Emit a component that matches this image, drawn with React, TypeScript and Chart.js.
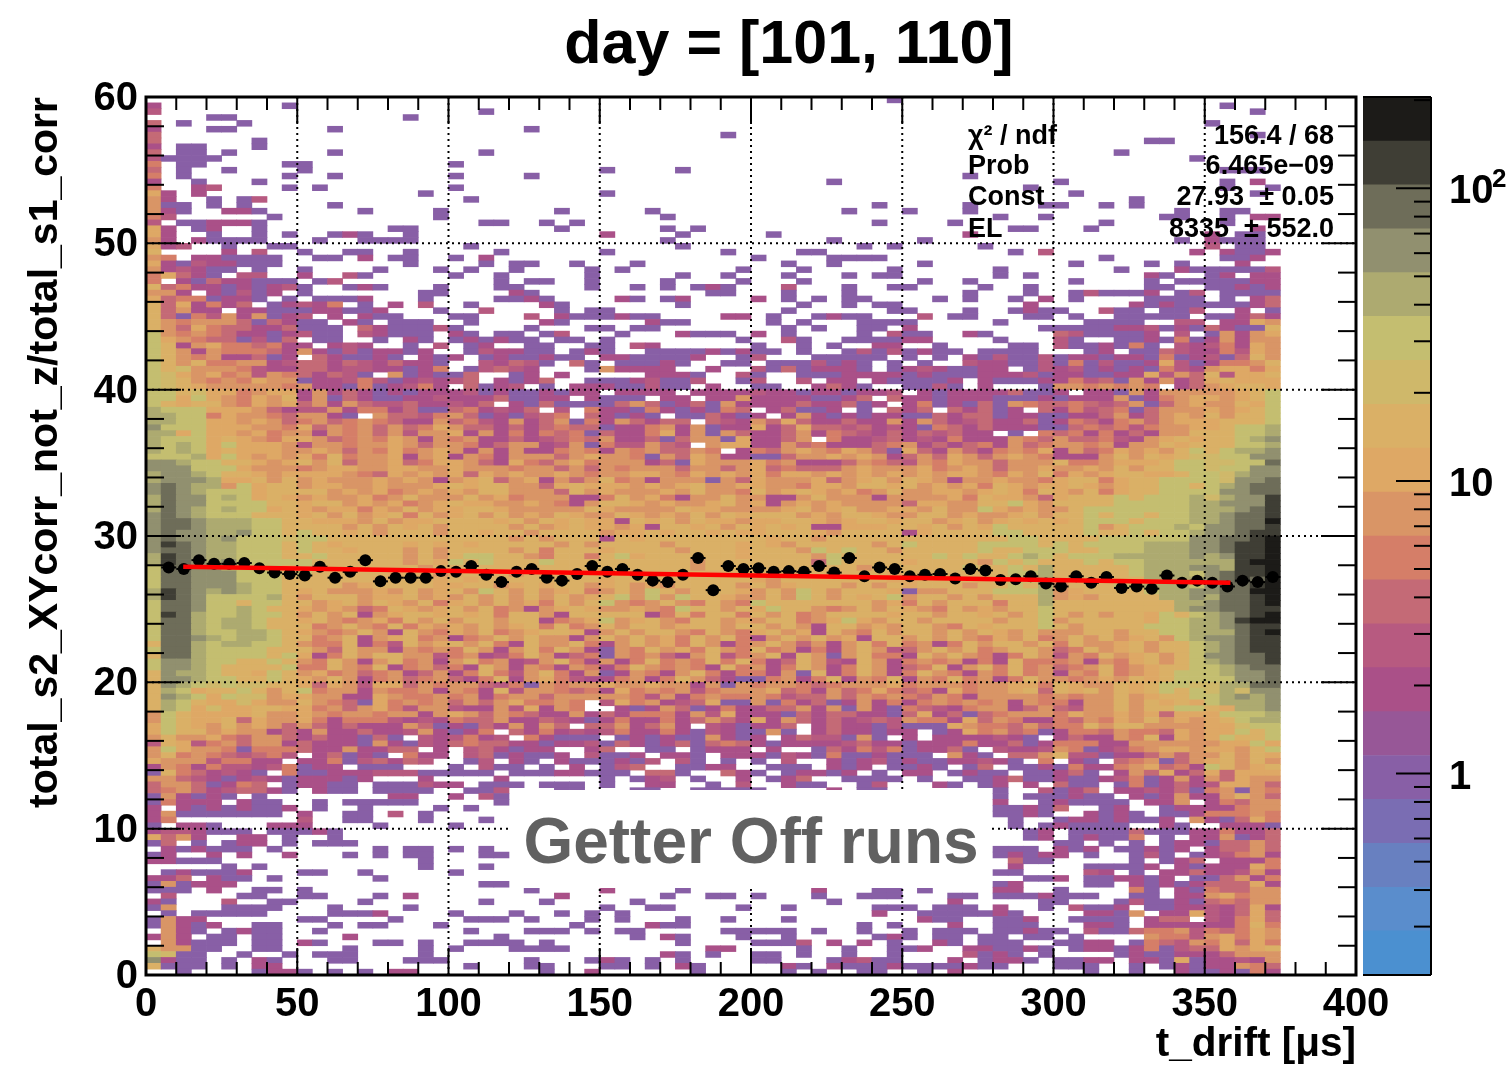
import React, { useEffect, useRef } from "react";
import { Chart, registerables } from "chart.js";

Chart.register(...registerables);

const FONT = "'Liberation Sans', Arial, sans-serif";

const titleText = "day = [101, 110]";
const xTitle = "t_drift [μs]";
const yTitle = "total_s2_XYcorr_not_z/total_s1_corr";
const noteText = "Getter Off runs";
const statNames = ["χ² / ndf", "Prob", "Const", "EL"];
const statValues = ["156.4 / 68", "6.465e−09", "27.93  ± 0.05", "8335  ± 552.0"];

const xBinEdges = ["0","5","10","15","20","25","30","35","40","45","50","55","60","65","70","75","80","85","90","95","100","105","110","115","120","125","130","135","140","145","150","155","160","165","170","175","180","185","190","195","200","205","210","215","220","225","230","235","240","245","250","255","260","265","270","275","280","285","290","295","300","305","310","315","320","325","330","335","340","345","350","355","360","365","370","375","380","385","390","395"];
const yBinHeight = 0.4;

// One string per y bin, top bin first; one letter per x bin, giving the colour-scale level of the count ('.' = empty).
const cellRows = [
".......... .......... .......... .......... .........p .......... .......... .....",
"m........p .......... .......... .......... .......... .......... .......... .p...",
"r......... .......... ..p....... .......... .......... .......... .......... ...p.",
"....pp.... .......p.. .......... .......... .......... .......... .......... .....",
"s.p...p... .......... .......... .......... .......... .......... .......... p....",
"m...pp.... ..p....... .....p.... .......... .......... .......... .......... .....",
"s......... .......... .......... ........p. .......... .......... .......... ...p.",
"s......p.. .......... .......... .......... .......... .......... ......pp.. .....",
"m.pp...p.. .......... .......... .......... .......... .......... .......... .....",
"s.pp.p.... ..p....... ..p....... .......... .......... .......... ....p..... .....",
"rpppp..... .......... .......... .......... .......... .......... .........p .....",
"o.pp.....p p......... p......... .......... .......... .......... .......... .....",
"s.p..p.... p......... .......... p....p.... .......... .......... .......... .ppp.",
"o.p......p ..p....... p....p.... .......... .......... ....p..... .......... .....",
"m..p...p.. .......... .......... .......... .....p.... .......... p......... .p.m.",
"o..mr....p .p........ p......... .......... .......... ........p. .......... .p..p",
"gm.m...... ........p. .......... p......... .......... .......... .p........ ...p.",
"fm..p.pr.. .......... .p........ .......... .......... .......... .....p.... .....",
"fpp.p.p... ..p....... .......... .......... ........p. ....p....p p..p.p.... .....",
"fmp..mmp.. ....p....p .......p.. ...p...... ......p... p...p..... ........p. .pp..",
"or......p. .........p .......... ....p..... .......... ......p..p .......pp. .p.mm",
"r.ppmmmp.. .......... ..pp..p.p. .......... ........p. ...p...... ...p...... .p...",
"gm.pm..p.. ......pp.. .......p.. ....p.p... .......... .......pp. ..p....... ...m.",
"gm..p..p.p ..pmp..p.. .......... m....p.... .p........ ....m..... .......... m.pp.",
"fm.mpppp.. .p..pppp.. .......... ....p..... .....p.... .p........ ........p. mppp.",
"gmr..p..pp .......... .p........ .....p.... .......p.p .....p.... .......... r.pp.",
"y....m.r.. p..pp..p.. ...p...... p.......p. ...pp..... .......p.r .........m .mppm",
"fo.mmpppp. .pp.m.pp.. p.m....... .......... p....pppp. .......... ...p...... .ppm.",
"gmprmmppp. .......p.. ..p.pp..p. ..p....... ..p..p.... .p........ .p....p.p. ..m..",
"fmrmpp.p.. p....p...p .p..p....p .p.......p ...p.....p ......p... ....p...mp ppppr",
"ogsmp.rr.. m..rp..... p..p.....p .....p..p. ..p...p.pp ......p.p. ......mp.. pm.mm",
"o.mpsmmppp .pr....... ...p.pp..p ....p....p ...p...... .p..p..... .p....p.pp pppmm",
"ysommpmpmr p..pmp...p ...pp....p ..p.p.pmp. ..r...p..p p....p..p. ......pp.. ppmpm",
"ffm.mprpm. p.......pp ....mp.... .......pp. ..p...p... ....p...p. .prpppm.pr .pppp",
"gsoopmmp.p .pppm...p. ...ppmp... .mp.pm.... m.p.p.pp.. ..p.p..p.m .p....pppp .p.ms",
"ysgmoms.pm rmo.p.m.r. .p....mp.. .....p.... ...p..p.pp ........m. .....mpmpp pppms",
"ysfmm.mmpp pmmppm...p ..r....p.p p......... ..p......p p...p..pmp p..rpp.ppr ..m.p",
"ysporfmfpm r.m.mpp... pp...r.mpp pmpp....mm .p..pmpp.. .r.pp...pp .p..ppppp. ppmsm",
"yfofffspsm pp.mp.ppp. .p....mp.. ...mpp.... .p.p...ppp p.....p... ..pppp..rr .mmgf",
"yfsgossmms ppp.smpppr p....p...p p.pp...... ..p.p..pp. m........p ppppmmrpmp smppy",
"kfofosmmpm rpp.rmppp. mp.pp.pr.. .p...mppp. m.p....p.r pp..mp.... srppppm.r. pfmfg",
"kgfossprps .pp..p.mp. pmpmpp.pp. p........p ..rp..pppp mm....p... rp..ppmpop mfmff",
"kymfgoosom m.mrm..p.r .pm..pp..p p.rm...... p..p.p..mm ..p....pp. rppmpop.rm romgf",
"kyfmfooosm fmprpmmpm. .prmmpp.pm p..ppppmpm pp.p..prpr pmpp.pppp. ..pm.ppsrm morgf",
"kyfofmmspm .smppmp.mp m.pmppmpp. mmppppm..p r...ppppp. p.p.mprppr pmmpmmpopm rpsyf",
"kyfyooffmr ssmsrmsmmp ..rmsrp.sp .pppmp..pp .ppprpmp.p .p..rmmppr poprppmgrp moofy",
"kyhffformm ssmrrmmpmo .prsrm...p fmmmm..m.. rpspmmmp.p mrmppmm.pr mrpmpmporm fggog",
"khgfgofrfo smsrp.fpmp ps..pm.m.. ...mmmp..r p..pppmmmm pmpppmmmrp mmppmmgrfs yrggy",
"khyfofogff pmmrorpmrm rs.mpms..p ppmrppr..p r..r.mm.mp pppm.mpppm morspfmfms gyggg",
"khygfffffo fmmpopmrom .spmr.p.mm mpprpp.m.. pp..msmp.. pprp.m...p ffofofo.ms fgyyg",
"kkyhggofgg mfmsmpmpmm mrpmppmpmm .mmmm.mmmm rmmpmmpmmr .mpmmmmspp m.mmpfmfff ffgyk",
"kkgkgfogfy mfpsmppmmr mmmsppmm.m ppp.mm.mmf mmmmppms.s mmpmmmpppm pmmmfpmofg gfgyk",
"kygyyfogfg sfmfsrrsmm rms.mpsppp psfspmspfm mmmsmmspm. mopmpspfos sosrsfpsfg ffygk",
"lkkkgggfsm rrfmoomspp somrms.r.o mmpompmpos .msppm.p.s ms.smspm.s morsopsfff gfgyk",
"llkkogffos ffmp.fssro fspmprso.s mpmp.ppsmp m.mfmpmpmm ppsmsspmmp pmmsfmsfgf yfyyk",
"llkkggfgfs ofsofosmmf sormfmsfpo mfsmss.srm fsgsmmsmmf mfsmrsmmsp mosmofsfgg gyyyk",
"nkkkgggffo gsfofsfsog fssmsmsoss pmmofmfpmm gmsgssrsmr mposmsmmmp psosoroffg gykkl",
"llgkggfgof fmfofsfrff gmfmomosop smmogmfpfs mmsfmosrms msrsmm.p.o somomsmffy yykkl",
"lkkkgygfog gfsofogfmf ofmmsmrsos fmmspsffpg mmsf.ommrs mrmommmfos fssormfgyg yykln",
"lklkgkgggf rffoffgfsf fomsffmrfp orrfsr.fgg mmfsommmso fmsmsomfso ffofmffygy yykkl",
"lklkgygggf fgfsfogofg fmfmfmmofo mfofssfo.m osfgfogfsp gsmfsmofog mfsogfgfyk yklln",
"kkklgkgfgf goyoffgmfg mfomfffsfg ffopfsgfmm ppsffgfgfm sfsgfsfgfo mmmfyfygyh hkknn",
"nnlkkyygfg yfysffgsog gfsmgosfgo fffmspgfff gofmmmsfos rfogffsfff yoofgggykk hhkkd",
"nnnkkkgfff ofggffggff gfffoffsfs fofffsffsf gsosssfgff fgofgfsffg ffgfyfyykk hkknn",
"lnnlkyygfg gggfosgfgf gsgfgffgfo ffggfogfgf goggfgfgfg fgfggfogfy ogfgyyggyk khlnn",
"lnnnlggyfy fgfffgfgfm fgysfgmfsf yofmfffpfs gfffgsfgyf ygfmffgffo gyyogyykkk khnnd",
"ndnllfkgyy fggffgfffg ygyyffsgyg ggfgfgyffg gffoggfyyg yfgfgoygfg gygfgyykky klndd",
"ndnlkkkgyy yyfgfgofgf gfyyfffsyf gfffgfyffo yfgygfgofy ffggfgygoy gfyogyykkk knndd",
"ldnnklkgyg fgffgofyff fyfgofffmm oyfgomffyf fmmfyfffmf fffgoyggfs gyyykykkkl hlnnc",
"ldnnkkkkyy gyyfgfgofg yggffgfomf yygfgffgyf gmfgfgffff sggffyykgf yyyykkkkkl lnnnc",
"ldnlklkkgy gfggogfyfg gyygfffffy gffffyggff ffgyfgyffg gfyffkgfgf fykkkkkkkl llndc",
"ndnlkkkyyy gyfyfgyoyf gyfyfgfygf fygfgfyfyg yyyfgfyygf fyyfgffgyf yykykkykkl lnddc",
"nddnlllkky ygggfyfggy yyygyfygyg gmygyfyggf ggyygfgyyg yyfgyfgygy gykkkykkkl lnddb",
"nddnlllkky yyyfyfygyf yyyyfyfgyg gfgmyygyfy gygymmgggy ygyfygkyyy yykfykkklk nnddc",
"ndnnllnkky kyygyfyyyf yygyyfyyyy fggygyygyg gyyygfyyyy mgyyyykkyy yykyykykkl nndcc",
"ndnnlnkkkh kkyyyyyyyy yyyyfyfyyy mygyyyyyyy ygyyfyyyyy yyyyyyykky yyykkkkkkn nddcb",
"ncdnllkkky kygyyyygyg ygyyyyyfyf yyyyfyyyyg ygfyyyyyfy kyyyykkkky kykkkkllln ndccb",
"nddnllkkky kyygyyyfyf yyyyfyoyyy gyyyyfyyyg yyyfkykyyf yyyyykyykk kyykkkllln ndccb",
"lcdnllkkky ykyyyyyfyf ykkyyfoyyo ykgyyyyyyg yyyyfkyyyy yykykyyklk ykkkllllln lnccb",
"lcdnlnkkkk kyyyyyyfyg kykyyykyyy yyyyyyfyyy yyyyskyyyy gyyyyfkyky yykykkllll llcbb",
"kddnnlkkky kyyyyyyyfy yyyyyyyyyy yyyyyyfyyy yyyyyyyfyy yyyykyykyl yyyyykllln nlccb",
"kddnnnkkky kyyyyygyyf gyyyfyyyyy yyfyyyygyy yyygyyyyyg yyyyyyykkl yyyyyklllk ndccb",
"kddnnnkkky yyyyygyyyg ygyyyyyyyy gyyyyyyyyy gfyyyyyyyg gyyyyykkkl yyyyyyllll ndcdb",
"kddnnnlkky yyyfgyyyyg gyyfgygyyf gyfgfyyyyf yfgyyyfyfy gyyyfyykyl fyyykklllk nddcb",
"lcdnlnlkky gyfffgfyfg yfkyfyfgyo fyfkyfyyyg fyfkyfyyyg pffyyykkkl fgyyyyklln nddbb",
"lcdnkkkkly fyyyfggyfg fyfyfyfyfg ykfkfkyygf fyfkyfygyk fyyfyfyyyl fgfyyyylln lddcb",
"kddnkkykky yfgyfygfyo gyfyfgoyfy kfofyfoyfo kyyyyyyyfg oyfyyyoyyl yyyyyyyyll nddcb",
"kddnkklkyy gfgfsoygfg yfyofmfgyg ffgfokyyfy gkyyfofyfy gfoyfgfyyk yyyyyyyyln nddcc",
"kcdlkklkky fyfymfgyyg ygyoyyfmyy yyymoyoyyo yfyofyyyyg yyfyygyfyk yfyfyygkyk lndcb",
"kddlkllkyy gyfofgoyfy fyyfyymofg kfgyfoyyfg fyyofgkgfy yfyyyyfyyk fyyyyygkkl lncbb",
"kddlkllkyy yofyfoyogf gfyfgyoyof yfyyfgyyfy yfyfmyyfgf yyfoygyyyk yfyyyykkkl lndcc",
"kddlkkllky gfofyfmyfo gfyofgyygm fyfyyfoyfo gyfgmyfoyf yyfyfygfyf ffyyfyykkl lldcb",
"kddnlkllky yofymfgyof mofyfyffmf yfyfgoyfyo mfyfyfgmyy fyfyfogfyo fyfyfgyfkl nndcc",
"yddlkllkky fooymoryfg yfyomyffyo mfyfgoyfmo fyfsfmfyoy ofmoyfyyfy oyffgyfyyk lndcc",
"kddlkkkkyy yfsyffmfof oyfmfyoyfm pfoyfgoyfo yofmomfyfr sfyfyofyyf soyfgyfyyk lndcc",
"yddlkkkkyk gmoyfyyffr ofmroyfmso pfofsmfyro fymyfpfyoo myfyfomoyf rfoyfgyfyk nnddc",
"knnlkkyyky foyfmfyofm fyofmrfyom fmoyofoyoy omsyfrmyfm ofofmomyoo ofmfogyfyk lnddc",
"knnlkyyyyk ooyfoymofs omyfmfomfo moyfofomyo fmoyfmoyfm soymfyoyof sofyofgyyk klndd",
"ynllkyygky fgofsofmsf moyorfyomf pmfomfyomo omfpymoyfm oyfomfoyof mfoyofgykk klnnd",
"ynnlkkyyky gfyfmofsof smoymfgorm mofmoyfsmp pofmoymfoy mfoyofmoyf fofgfygykk kknnd",
"ynlkhkhhyy gsgfrggsfo ffsropfoff gffgffmfpf offosofffg offfoffggo ygffygykkh hlldd",
"ylkgyykyfy koffmfoofm fomyrffoso mgofofroff fgsomfsogo somgoffgys ygyfygykyk hlhnn",
"ynlkgkhhfg gffmmgfoof ofmoffsfff fforfmofoo forssfsfof osfomffffo foffyfgyyk klnln",
"ylkygghgff yfospgofof sfsfgoofo. rgofmrsgpp fpomspmfmo mofofofmfo omffyfygyg kllln",
"ylkghggyyg gofsfgorff rmmfrgmfo. .mpmfspmom mssfmfpfmp osrmoffmsf srffyfyykk yglln",
"fkyggggyff gfoffoffmf gfsfosmmfm smooomfrgm mmpsmssmmp sgmspsofff ogffgfgsgg gkkkl",
"fkyggysgff gomooormrm ossfmmsrmp mommomsfsm gmfsmsmrsr foomgsfomm osfogfyfgf gykll",
"gkygfyfgfs fsmsmmmfsp mpsmfmfs.s sfmsfm.rmp mms.msmmpr pppgfoosfs ooyfyyffff gghkk",
"gkyyfgffms mfmmsmmrfm pmo.smomrm rommomprmp pfp.msmmpm m.pmgofsop moosfoosgf ggkyk",
"fyffgosffs msmmpsp.rm romr.omppp .pmpmppfmp m.msrrpfp. m.mmmmrmp. msmmfoymgf gkyyk",
"rygrofsffm smmmpfmprm sossmmpmmr psmpmspsos mpmmmmrsmm pmmmommspm ooommfffff fggkg",
"fkgffopooo smmfmmss.m .rsmpmm..m s..pp.pmmm .m..psmoro pmmsp.rmmr fopmrofggf ggfyk",
"fyofosrsor .mspmp.omm .rspmppm.r ppm.mmp.mm mprmpoppmp pp.fmp.ssf yrrpmmsfsf fyfyg",
"gfffroomm. mmoprsmsr. .pr.mp.mpp pmpr.rp.p. p.r..mpmrp mppmmrmp.o .mp.sofpsf gyfyf",
"mfomorrmro pmm.ppp... p.rpp.p.m. prs..ppmm. .ppp.mpm.p pmp.ps.ppm pommofgsom kyfgy",
"pyosmrmp.o ppmmmrrrpp ppp.pppmmp pp.ssp..sm p.pmmpm.p. mm.pmpp.pp msp.mfsgms gsggg",
"ffsrmpmrmp mmmpm...m. ...m...... p.pmr.p..m .pms..pppp .p..ppmspp mppmropmfm fsgff",
"sffspmos.p mmpp.ppprm m.ppp.ppp. p..mm..p.r ..mpp..pr. ..mp.pm.m. spp.popmsm rggfs",
"sofsmrssmp .mpp.pppp. .ppr...pp. ..pp..pppp p....m.pp. ......p..r pms.mmrmsp ofpfo",
"pfmpmp.p.. ......mm.. m.rp...... .......... .......... ......p.pp pmpp.mpmfm mfyfs",
"pommm.mpp. .p.ppppp.. ...p...... .......... .......... ......m..p mpppp.mmf. mosff",
"m.mpmpmppm .p..p....p .p........ .......... .......... ......ppmp s..pm..pmm mmoff",
"mfppppppp. m..pp.r.p. .......... .......... .......... ......ppmp ..mpmp.ppm ooofo",
"mo........ r..pp...p. ..p....... .......... .......... .......p.. pmmpmppm.f mpsgo",
"p.mmp...mm m....p.... p......... .......... .......... .......p.p mpppp..mp. .mmmp",
"mrrmppp.pp pmp....... .......... .......... .......... ........pm .ppppspppm momms",
"gsfm..mm.p ..p....... .......... .......... .......... ........pm .pmppo.p.m mfpms",
"ps.p.pmm.p .ppp...... .......... .......... .......... .......... pp.p.p.pmm pssfs",
".mpmppp.p. .....p.pp. p.p....... .......... .......... ......ppp. mpm.ppmpm. mssfs",
"pm..m.m..m ...p.p.pp. ..pp...... .......... .......... ......pmpm m.p..prp.p mrofm",
"mmppp..... ........p. .......... .......... .......... .......spp .....p.pms .mmmo",
".....p.p.. ........p. ..p....... .......... .......... .......m.. ..ppppm.mp mmmgo",
".pmpppm... pp..p..... p......... .......... .......... ......pp.. ..rm.p.mms mmrfm",
"mms.mpp.p. .....p.... .......... .......... .......... ........pp m.ppmmpm.p psfmo",
"pfpmmm.... .......... ..pp...m.. ....m..... .......... ......pm.. ..pp.mpmpm sssgm",
"ppp.m..pp. p......... .....p.... m....p.... ....m...pp .p....mm.. p....op.mp ossff",
".r....pp.. pp...p.m.. .......m.. ....p..pp. p...p..ppp ...pp.pppm ppp..pp.mm fgoff",
"mp...r..pp ....p..... ..p...p... ..p....... .....p.... ...m.....p p...prppmp sosff",
"pf...pppp. ..p....p.. .......... p..pp....p ..p.....pp p.ppp.m..p .rppm.ppmm rmsgm",
".p.ppppp.. ..pppm.... p...p..p.p .p........ ........m. .pppppmp.. ..mmpf.mmg rmsgs",
"pfmm...... pp....p... .ppp.p...p .p...p..p. ..p....... .mpp..ppm. .pppp.mss. rmogs",
"pfmpm..pp. ..p.pp...p ........p. ...mpp.... .......p.p ...m..ppp. ..mmp.mmmm mmoyo",
".fmp.pmpp. .p........ .p...ppp.p .pp.....pp ppp.p..p.. p.ppp.ppmp p.rppsoofr osogf",
"mfm.pp.pp. ...m...... ...p...... ..p.mp...p ..p.....pm p.pp.pp.pp .p....foor fgogf",
".fmppp.pp. mp...pp.p. .pppp.p... .....p.... pppr.m.m.p ..mp.ppp.. ppmm.posrf ogsgo",
"yffpp..pp. ...p....p. p...pppp.. .......mm. ...p..p..p pm..mmppmp .pmmpmoprs sgfgy",
"khpp..p..p .ppp....p. .......... ....mp.p.. pp.p..p..p ....rpmp.p ....pmppmm msfff",
"nmpp.p.mp. ..pp...ppp .....p...p mp.p.p.... pp...pmrpp ...m.pmmp. ppmm.mmpgp mmrmf",
"yppp.p.mm. .......... .p...pp... pp.p.mp... ..mp.mpppm ppppmpp... ppp..p.pmp mmfos",
"..p....pmm p.p.p.mm.. ......p..m ......p... ..p.p..pp. .p.m...... ..p..p..mp pmpom",
];

const cellColor: Record<string, string> = {
  ".": "rgba(0,0,0,0)", p: "#885fa6", m: "#aa5088", r: "#b75a80", s: "#c46a76", o: "#d57e68", f: "#d99566", g: "#dea865",
  y: "#dab066", h: "#cfb86a", k: "#c4be70", l: "#adaa70", n: "#91906f", d: "#6e6d59", c: "#3f3e35", b: "#1c1b18",
};

// Profile points
const pointX = [7.5,12.5,17.5,22.5,27.5,32.5,37.5,42.5,47.5,52.5,57.5,62.5,67.5,72.5,77.5,82.5,87.5,92.5,97.5,102.5,107.5,112.5,117.5,122.5,127.5,132.5,137.5,142.5,147.5,152.5,157.5,162.5,167.5,172.5,177.5,182.5,187.5,192.5,197.5,202.5,207.5,212.5,217.5,222.5,227.5,232.5,237.5,242.5,247.5,252.5,257.5,262.5,267.5,272.5,277.5,282.5,287.5,292.5,297.5,302.5,307.5,312.5,317.5,322.5,327.5,332.5,337.5,342.5,347.5,352.5,357.5,362.5,367.5,372.5];
const pointY = [27.85,27.75,28.35,28.1,28.1,28.15,27.8,27.5,27.4,27.3,27.9,27.15,27.55,28.35,26.9,27.15,27.15,27.15,27.6,27.55,27.95,27.35,26.85,27.55,27.75,27.15,26.95,27.4,27.95,27.55,27.75,27.35,26.95,26.85,27.35,28.5,26.3,27.95,27.75,27.8,27.55,27.6,27.55,27.95,27.5,28.5,27.25,27.85,27.75,27.25,27.35,27.4,27.1,27.75,27.65,27.0,27.05,27.25,26.75,26.55,27.25,26.8,27.2,26.45,26.55,26.4,27.3,26.8,26.95,26.8,26.55,26.95,26.85,27.2];

// Fit line end points
const fitX = [12.3, 358.5];
const fitY = [27.9, 26.8];

// Colour scale
const levelEdges = [0.205,0.29,0.409,0.578,0.817,1.153,1.629,2.301,3.25,4.59,6.48,9.16,12.94,18.28,25.8,36.5,51.5,72.7,102.7,145,205];
const levelColors = ["#4b90d0","#5a8dcc","#6880c0","#7a6db3","#885fa6","#975797","#aa5088","#b75a80","#c46a76","#d57e68","#d99566","#dea865","#dab066","#cfb86a","#c4be70","#adaa70","#91906f","#6e6d59","#3f3e35","#1c1b18"];
const colorTicks = [1, 10, 100];
const colorMinorTicks = [0.3,0.4,0.5,0.6,0.7,0.8,0.9,2,3,4,5,6,7,8,9,20,30,40,50,60,70,80,90,200];
const colorTickLabels: Record<number, string> = { 1: "1", 10: "10", 100: "10" };
const colorTopExponent = "2";

const xMinor = [10,20,30,40,60,70,80,90,110,120,130,140,160,170,180,190,210,220,230,240,260,270,280,290,310,320,330,340,360,370,380,390];
const yMinor = [2,4,6,8,12,14,16,18,22,24,26,28,32,34,36,38,42,44,46,48,52,54,56,58];

function line(ctx: CanvasRenderingContext2D, x0: number, y0: number, x1: number, y1: number) {
  ctx.beginPath();
  ctx.moveTo(x0, y0);
  ctx.lineTo(x1, y1);
  ctx.stroke();
}

const mainPlugin = {
  id: "rootStyle",
  beforeDatasetDraw(chart: any, args: any) {
    if (chart.data.datasets[args.index].id !== "stubs") return;
    const { ctx, chartArea: a, scales } = chart;
    const xs = scales.xv;
    const ys = scales.y;
    ctx.save();
    ctx.strokeStyle = "#000";
    ctx.lineWidth = 2;
    ctx.setLineDash([2, 4]);
    xs.ticks.forEach((t: any) => {
      if (t.value <= 0 || t.value >= 400) return;
      const x = xs.getPixelForValue(t.value);
      line(ctx, x, a.top, x, a.bottom);
    });
    ys.ticks.forEach((t: any) => {
      if (t.value <= 0 || t.value >= 60) return;
      const y = ys.getPixelForValue(t.value);
      line(ctx, a.left, y, a.right, y);
    });
    ctx.setLineDash([]);
    xs.ticks.forEach((t: any) => {
      const x = xs.getPixelForValue(t.value);
      line(ctx, x, a.top, x, a.top + 27);
      line(ctx, x, a.bottom, x, a.bottom - 27);
    });
    xMinor.forEach((v) => {
      const x = xs.getPixelForValue(v);
      line(ctx, x, a.top, x, a.top + 13);
      line(ctx, x, a.bottom, x, a.bottom - 13);
    });
    ys.ticks.forEach((t: any) => {
      const y = ys.getPixelForValue(t.value);
      line(ctx, a.left, y, a.left + 35, y);
      line(ctx, a.right, y, a.right - 35, y);
    });
    yMinor.forEach((v) => {
      const y = ys.getPixelForValue(v);
      line(ctx, a.left, y, a.left + 18, y);
      line(ctx, a.right, y, a.right - 18, y);
    });
    ctx.restore();
  },
  afterDatasetsDraw(chart: any) {
    const { ctx, chartArea: a } = chart;
    ctx.save();
    // note box
    ctx.fillStyle = "#fff";
    ctx.fillRect(510, 790, 480, 98);
    ctx.fillStyle = "#616161";
    ctx.font = `bold 64px ${FONT}`;
    ctx.textAlign = "center";
    ctx.textBaseline = "alphabetic";
    ctx.fillText(noteText, 751, 863);
    // frame
    ctx.strokeStyle = "#000";
    ctx.lineWidth = 3;
    ctx.strokeRect(a.left, a.top, a.right - a.left, a.bottom - a.top);
    // stats
    ctx.fillStyle = "#000";
    ctx.font = `bold 27px ${FONT}`;
    const base = [143.5, 174, 205, 236.5];
    ctx.textAlign = "left";
    statNames.forEach((s, i) => ctx.fillText(s, 968, base[i]));
    ctx.textAlign = "right";
    statValues.forEach((s, i) => ctx.fillText(s, 1334, base[i]));
    // title
    ctx.textAlign = "center";
    ctx.font = `bold 61px ${FONT}`;
    ctx.fillText(titleText, 789, 63);
    ctx.restore();
  },
};

const barPlugin = {
  id: "colorBarStyle",
  afterDatasetsDraw(chart: any) {
    const { ctx, chartArea: a, scales } = chart;
    const s = scales.y;
    ctx.save();
    ctx.strokeStyle = "#000";
    ctx.lineWidth = 2;
    colorTicks.forEach((v) => {
      const y = s.getPixelForValue(v);
      line(ctx, a.right, y, a.right - 35, y);
    });
    colorMinorTicks.forEach((v) => {
      const y = s.getPixelForValue(v);
      line(ctx, a.right, y, a.right - 17, y);
    });
    line(ctx, a.left, a.top, a.right, a.top);
    line(ctx, a.right, a.top, a.right, a.bottom);
    line(ctx, a.left, a.bottom, a.right, a.bottom);
    ctx.fillStyle = "#000";
    ctx.font = `bold 26px ${FONT}`;
    ctx.textAlign = "left";
    ctx.textBaseline = "alphabetic";
    ctx.fillText(colorTopExponent, 1492, 187);
    ctx.restore();
  },
};

export default function App() {
  const mainRef = useRef<HTMLCanvasElement | null>(null);
  const barRef = useRef<HTMLCanvasElement | null>(null);

  useEffect(() => {
    document.body.style.margin = "0";
    const rows = cellRows.map((r) => r.replace(/ /g, "").padEnd(xBinEdges.length, "."));
    const heat: any[] = [];
    for (let r = rows.length - 1; r >= 0; r--) {
      heat.push({
        type: "bar",
        xAxisID: "xb",
        yAxisID: "ys",
        order: 5,
        data: xBinEdges.map(() => yBinHeight),
        backgroundColor: xBinEdges.map((_, c) => cellColor[rows[r][c]] ?? cellColor["."]),
        grouped: false,
        barPercentage: 1,
        categoryPercentage: 1,
        borderWidth: 0,
      });
    }
    const pts = pointX.map((x, i) => ({ x, y: pointY[i] }));
    const tickFont = { family: FONT, size: 40, weight: "bold" as const };
    const main = new Chart(mainRef.current as HTMLCanvasElement, {
      type: "bar",
      data: {
        labels: xBinEdges,
        datasets: [
          ...heat,
          { id: "stubs", type: "scatter", xAxisID: "xv", yAxisID: "y", order: 3, data: pts, pointStyle: "line", pointRadius: 7.5, pointBorderWidth: 2, pointBorderColor: "#000", showLine: false },
          { id: "points", type: "scatter", xAxisID: "xv", yAxisID: "y", order: 2, data: pts, pointStyle: "circle", pointRadius: 6, pointBackgroundColor: "#000", pointBorderColor: "#000", pointBorderWidth: 0, showLine: false },
          { id: "fit", type: "line", xAxisID: "xv", yAxisID: "y", order: 1, data: fitX.map((x, i) => ({ x, y: fitY[i] })), borderColor: "#ff0000", borderWidth: 4.5, pointRadius: 0, tension: 0 },
        ] as any,
      },
      options: {
        animation: false,
        responsive: false,
        events: [],
        layout: { padding: { top: 97, right: 155, left: 0, bottom: 0 } },
        plugins: { legend: { display: false }, tooltip: { enabled: false }, title: { display: false } },
        scales: {
          xb: { type: "category", display: false, stacked: true, offset: true, grid: { offset: true } },
          ys: { type: "linear", display: false, stacked: true, min: 0, max: 60 },
          xv: {
            type: "linear",
            position: "bottom",
            offset: false,
            min: 0,
            max: 400,
            grid: { display: false, drawTicks: false, offset: false },
            border: { display: false },
            ticks: { stepSize: 50, font: tickFont, color: "#000", padding: 6, maxRotation: 0, autoSkip: false },
            title: { display: true, text: xTitle, align: "end", color: "#000", font: { family: FONT, size: 40.5, weight: "bold", lineHeight: 1 }, padding: { top: 0, bottom: 2 } },
            afterFit: (s: any) => { s.height = 92; },
          },
          y: {
            type: "linear",
            position: "left",
            min: 0,
            max: 60,
            grid: { display: false, drawTicks: false },
            border: { display: false },
            ticks: { stepSize: 10, font: tickFont, color: "#000", padding: 8, labelOffset: 2 },
            title: { display: true, text: yTitle, align: "end", color: "#000", font: { family: FONT, size: 41, weight: "bold", lineHeight: 1 }, padding: { top: 25, bottom: 0 } },
            afterFit: (s: any) => { s.width = 146; },
          },
        } as any,
      },
      plugins: [mainPlugin as any],
    });

    const bar = new Chart(barRef.current as HTMLCanvasElement, {
      type: "bar",
      data: {
        labels: ["levels"],
        datasets: levelColors.map((c, i) => ({
          data: [[levelEdges[i], levelEdges[i + 1]]],
          backgroundColor: c,
          borderWidth: 0,
          barPercentage: 1,
          categoryPercentage: 1,
          grouped: false,
        })) as any,
      },
      options: {
        animation: false,
        responsive: false,
        events: [],
        layout: { padding: { left: 1363, top: 97, bottom: 92, right: 0 } },
        plugins: { legend: { display: false }, tooltip: { enabled: false } },
        scales: {
          x: { type: "category", display: false, offset: true },
          y: {
            type: "logarithmic",
            position: "right",
            min: 0.205,
            max: 205,
            grid: { display: false, drawTicks: false },
            border: { display: false },
            afterBuildTicks: (s: any) => { s.ticks = colorTicks.map((v) => ({ value: v, major: true })); },
            ticks: { font: tickFont, color: "#000", padding: 18, labelOffset: 4, callback: (v: any) => colorTickLabels[Number(v)] ?? "" },
            afterFit: (s: any) => { s.width = 80; },
          },
        } as any,
      },
      plugins: [barPlugin as any],
    });
    return () => {
      main.destroy();
      bar.destroy();
    };
  }, []);

  return (
    <div style={{ position: "relative", width: 1511, height: 1067, background: "#fff", overflow: "hidden" }}>
      <canvas ref={mainRef} width={1511} height={1067} style={{ position: "absolute", left: 0, top: 0, display: "block" }} />
      <canvas ref={barRef} width={1511} height={1067} style={{ position: "absolute", left: 0, top: 0, display: "block" }} />
    </div>
  );
}
